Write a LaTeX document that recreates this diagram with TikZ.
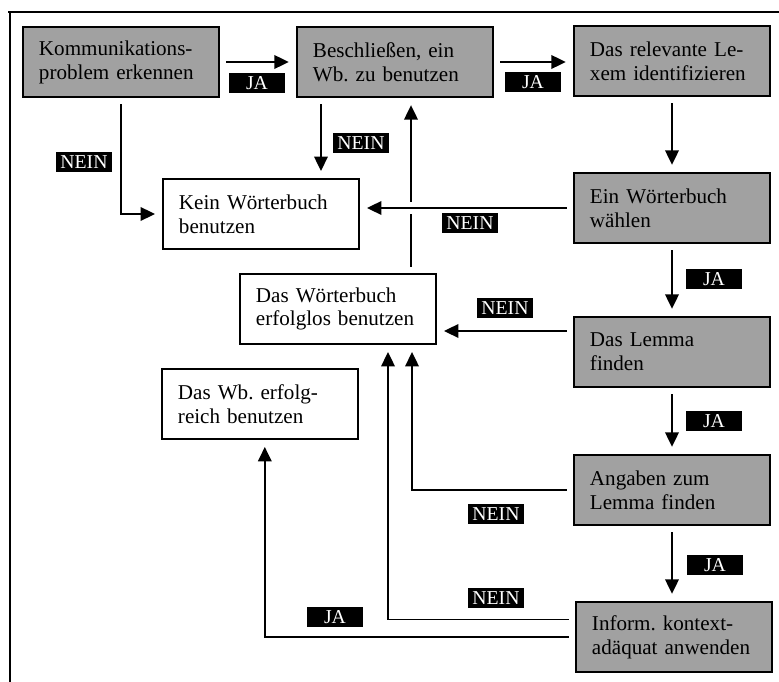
\documentclass[tikz,border=0pt]{standalone}
\usepackage{fontspec}
\setmainfont{Liberation Serif}
\usetikzlibrary{arrows.meta,positioning,calc}

\begin{document}
\begin{tikzpicture}[x=0.025cm,y=-0.025cm,>={Triangle[length=3.6mm,width=3.4mm]},
   line width=1.1pt,font=\fontsize{15}{17}\selectfont\frenchspacing,
   gr/.style={draw,line width=1.4pt,fill=black!37,minimum width=4.9cm,minimum height=1.75cm,
     text width=4.1cm,align=left,inner xsep=0.4cm},
   wt/.style={gr,fill=white,line width=1.1pt},
   lab/.style={fill=black,text=white,font=\fontsize{14}{14}\selectfont,
     minimum width=1.42cm,minimum height=0.5cm,inner sep=0pt},
   ar/.style={->,shorten <=1.6mm,shorten >=1.8mm}]
  \useasboundingbox (0,0) rectangle (779,682);
  \draw[line width=1.3pt] (8,12)--(779,12); \draw[line width=1.3pt] (10,12)--(10,682);
  \node[gr] (komm) at (121,62) {Kommunikations-\\problem erkennen};
  \node[gr] (beschl) at (395,62) {Beschließen, ein\\Wb. zu benutzen};
  \node[gr] (lexem) at (672,61) {Das relevante Le-\\xem identifizieren};
  \node[gr] (wahl) at (672,208) {Ein Wörterbuch\\wählen};
  \node[gr] (lemma) at (672,352) {Das Lemma\\finden};
  \node[gr] (angaben) at (672,490) {Angaben zum\\Lemma finden};
  \node[gr] (inform) at (674,637) {Inform. kontext-\\adäquat anwenden};
  \node[wt] (kein) at (261,214) {Kein Wörterbuch\\benutzen};
  \node[wt] (erfglos) at (338,309) {Das Wörterbuch\\erfolglos benutzen};
  \node[wt] (erfgreich) at (260,404) {Das Wb. erfolg-\\reich benutzen};
  \draw[ar] (komm)--(beschl);
  \draw[ar] (beschl.east)--(beschl.east -| lexem.west);
  \draw[ar] (komm.south)|-(kein.west);
  \draw[ar] ([xshift=-1.85cm]beschl.south)--([xshift=-1.85cm]beschl.south |- kein.north);
  \draw[ar] (lexem)--(wahl);
  \draw[ar] ([xshift=0.4cm]beschl.south |- erfglos.north)--([xshift=0.4cm]beschl.south);
  \draw[ar,preaction={draw=white,line width=9pt,-}] (wahl)--(kein.east |- wahl);
  \draw[ar] (wahl)--(lemma);
  \draw[ar] ([yshift=0.525cm]lemma.west)--([yshift=0.525cm]lemma.west -| erfglos.east);
  \draw[ar] (lemma)--(angaben);
  \draw[ar] (angaben.west)-|([xshift=1.85cm]erfglos.south);
  \draw[ar] (angaben.south)--(angaben.south |- inform.north);
  \draw[ar] ([yshift=0.44cm]inform.west)-|([xshift=1.25cm]erfglos.south);
  \draw[ar] (inform.west)-|([xshift=0.12cm]erfgreich.south);
  \node[lab] (ja1) at (257,83) {JA};
  \node[lab] (ja2) at (533,82) {JA};
  \node[lab] (nein1) at (84,162) {NEIN};
  \node[lab] (nein2) at (361,143) {NEIN};
  \node[lab] (nein3) at (470,223) {NEIN};
  \node[lab] (ja3) at (714,279) {JA};
  \node[lab] (nein4) at (505,308) {NEIN};
  \node[lab] (ja4) at (714,421) {JA};
  \node[lab] (nein5) at (496,514) {NEIN};
  \node[lab] (ja5) at (715,565) {JA};
  \node[lab] (nein6) at (496,598) {NEIN};
  \node[lab] (ja6) at (335,617) {JA};
\end{tikzpicture}
\end{document}
